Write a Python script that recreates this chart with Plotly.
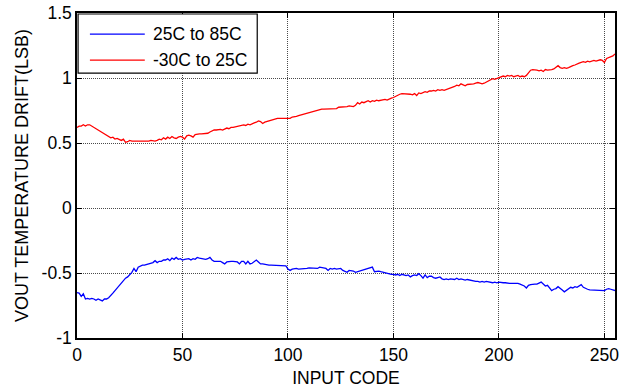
import plotly.graph_objects as go

codes = list(range(256))

drift_25_85 = [
    -0.65, -0.655, -0.68, -0.66, -0.70, -0.695, -0.70, -0.695, -0.70, -0.71, -0.70, -0.705, -0.715, -0.70, -0.70, -0.69,
    -0.675, -0.655, -0.635, -0.615, -0.595, -0.575, -0.555, -0.54, -0.53, -0.51, -0.495, -0.465, -0.49, -0.455, -0.445, -0.44,
    -0.44, -0.435, -0.43, -0.425, -0.42, -0.405, -0.42, -0.41, -0.41, -0.40, -0.40, -0.39, -0.405, -0.385, -0.395, -0.38,
    -0.395, -0.39, -0.40, -0.395, -0.395, -0.39, -0.40, -0.39, -0.395, -0.38, -0.385, -0.39, -0.395, -0.395, -0.39, -0.38,
    -0.40, -0.41, -0.41, -0.41, -0.41, -0.42, -0.43, -0.415, -0.41, -0.41, -0.41, -0.41, -0.415, -0.43, -0.41, -0.41,
    -0.43, -0.41, -0.43, -0.425, -0.41, -0.40, -0.415, -0.43, -0.43, -0.435, -0.44, -0.44, -0.44, -0.44, -0.44, -0.445,
    -0.445, -0.445, -0.445, -0.445, -0.47, -0.48, -0.47, -0.465, -0.465, -0.47, -0.47, -0.465, -0.465, -0.465, -0.46, -0.46,
    -0.465, -0.46, -0.465, -0.455, -0.46, -0.465, -0.465, -0.48, -0.465, -0.47, -0.465, -0.47, -0.47, -0.465, -0.48, -0.49,
    -0.495, -0.48, -0.48, -0.485, -0.495, -0.49, -0.485, -0.48, -0.48, -0.47, -0.47, -0.465, -0.455, -0.49, -0.485, -0.485,
    -0.49, -0.495, -0.50, -0.505, -0.505, -0.51, -0.51, -0.515, -0.51, -0.52, -0.51, -0.515, -0.52, -0.515, -0.53, -0.52,
    -0.515, -0.52, -0.505, -0.52, -0.54, -0.515, -0.535, -0.525, -0.525, -0.535, -0.54, -0.535, -0.53, -0.545, -0.55, -0.545,
    -0.55, -0.545, -0.55, -0.55, -0.54, -0.55, -0.545, -0.55, -0.555, -0.55, -0.555, -0.56, -0.565, -0.565, -0.565, -0.57,
    -0.565, -0.57, -0.565, -0.57, -0.57, -0.575, -0.57, -0.575, -0.57, -0.575, -0.575, -0.575, -0.58, -0.58, -0.58, -0.58,
    -0.575, -0.58, -0.585, -0.59, -0.60, -0.615, -0.595, -0.59, -0.585, -0.585, -0.585, -0.575, -0.57, -0.585, -0.60, -0.595,
    -0.615, -0.635, -0.625, -0.62, -0.605, -0.615, -0.63, -0.645, -0.635, -0.625, -0.61, -0.615, -0.605, -0.61, -0.60, -0.59,
    -0.61, -0.62, -0.625, -0.63, -0.63, -0.63, -0.63, -0.63, -0.635, -0.635, -0.635, -0.625, -0.62, -0.625, -0.63, -0.635,
]

drift_m30_25 = [
    0.62, 0.63, 0.63, 0.64, 0.63, 0.64, 0.64, 0.63, 0.62, 0.61, 0.60, 0.59, 0.58, 0.57, 0.56, 0.55,
    0.54, 0.545, 0.53, 0.535, 0.53, 0.52, 0.53, 0.505, 0.51, 0.52, 0.515, 0.515, 0.51, 0.515, 0.515, 0.515,
    0.51, 0.515, 0.515, 0.52, 0.515, 0.515, 0.52, 0.53, 0.525, 0.54, 0.53, 0.545, 0.535, 0.55, 0.54, 0.535,
    0.545, 0.55, 0.545, 0.53, 0.555, 0.56, 0.555, 0.545, 0.565, 0.57, 0.57, 0.57, 0.57, 0.575, 0.575, 0.585,
    0.595, 0.60, 0.60, 0.605, 0.605, 0.60, 0.61, 0.615, 0.61, 0.62, 0.62, 0.625, 0.625, 0.63, 0.635, 0.64,
    0.635, 0.645, 0.64, 0.65, 0.655, 0.66, 0.67, 0.665, 0.65, 0.66, 0.665, 0.675, 0.675, 0.68, 0.685, 0.69,
    0.69, 0.69, 0.695, 0.69, 0.695, 0.69, 0.70, 0.70, 0.705, 0.71, 0.715, 0.715, 0.72, 0.725, 0.73, 0.735,
    0.74, 0.745, 0.755, 0.76, 0.76, 0.76, 0.76, 0.76, 0.76, 0.76, 0.76, 0.765, 0.775, 0.775, 0.78, 0.78,
    0.78, 0.785, 0.78, 0.78, 0.79, 0.81, 0.80, 0.815, 0.81, 0.82, 0.825, 0.815, 0.825, 0.82, 0.83, 0.825,
    0.83, 0.83, 0.835, 0.83, 0.84, 0.845, 0.85, 0.86, 0.87, 0.875, 0.88, 0.88, 0.88, 0.875, 0.875, 0.87,
    0.88, 0.865, 0.885, 0.88, 0.89, 0.895, 0.89, 0.90, 0.90, 0.905, 0.90, 0.91, 0.905, 0.91, 0.905, 0.91,
    0.92, 0.925, 0.93, 0.935, 0.945, 0.94, 0.955, 0.945, 0.94, 0.95, 0.95, 0.95, 0.955, 0.96, 0.965, 0.96,
    0.955, 0.96, 0.97, 0.98, 0.985, 0.995, 0.99, 0.995, 1.00, 1.005, 1.015, 1.01, 1.02, 1.015, 1.02, 1.01,
    1.015, 1.02, 1.01, 1.015, 1.01, 1.02, 1.04, 1.06, 1.065, 1.065, 1.06, 1.055, 1.06, 1.05, 1.065, 1.06,
    1.06, 1.065, 1.07, 1.085, 1.095, 1.08, 1.075, 1.08, 1.075, 1.08, 1.09, 1.095, 1.10, 1.11, 1.115, 1.12,
    1.125, 1.12, 1.13, 1.125, 1.13, 1.135, 1.13, 1.135, 1.14, 1.135, 1.12, 1.15, 1.155, 1.16, 1.17, 1.185,
]

series_names = ["25C to 85C", "-30C to 25C"]
series_colors = ["#0000FF", "#FF0000"]
x_ticks = [0, 50, 100, 150, 200, 250]
y_ticks = [-1, -0.5, 0, 0.5, 1, 1.5]
y_tick_text = ["-1", "-0.5", "0", "0.5", "1", "1.5"]

FAM = "Liberation Sans, Arial, sans-serif"
font = dict(family=FAM, size=17.5, color="black")

fig = go.Figure()
for name, ys, col in zip(series_names, [drift_25_85, drift_m30_25], series_colors):
    fig.add_trace(go.Scatter(x=codes, y=ys, mode="lines", name=name,
                             line=dict(color=col, width=1.3), showlegend=False))

axis_common = dict(
    showline=True, linecolor="black", linewidth=1.5, mirror="ticks",
    ticks="inside", ticklen=5, tickcolor="black", tickwidth=1,
    showgrid=True, gridcolor="#4a4a4a", gridwidth=1, griddash="1px,1px",
    zeroline=False, tickfont=font, automargin=False,
)

fig.update_xaxes(range=[0, 255], tickvals=x_ticks,
                 title=dict(text="INPUT CODE", font=font, standoff=8),
                 **axis_common)
fig.update_yaxes(range=[-1, 1.5], tickvals=y_ticks, ticktext=y_tick_text,
                 title=dict(text="VOUT TEMPERATURE DRIFT(LSB)", font=dict(family=FAM, size=18, color="black"),
                            standoff=8),
                 **axis_common)

# Legend box drawn in paper coordinates (top-left, inside the axes)
lg_x0, lg_x1, lg_y0, lg_y1 = 0.002, 0.335, 0.815, 0.997
line_x0, line_x1, text_x = 0.024, 0.126, 0.137
row_y = [0.935, 0.855]
shapes = [dict(type="rect", xref="paper", yref="paper", x0=lg_x0, x1=lg_x1, y0=lg_y0, y1=lg_y1,
               line=dict(color="black", width=1.2), fillcolor="white", layer="above")]
annotations = []
for name, col, yy in zip(series_names, series_colors, row_y):
    shapes.append(dict(type="line", xref="paper", yref="paper", x0=line_x0, x1=line_x1, y0=yy, y1=yy,
                       line=dict(color=col, width=1.3), layer="above"))
    annotations.append(dict(xref="paper", yref="paper", x=text_x, y=yy, text=name, showarrow=False,
                            xanchor="left", yanchor="middle", font=font))

fig.update_layout(
    width=631, height=391,
    margin=dict(l=77, r=16, t=13, b=53, autoexpand=False),
    paper_bgcolor="white", plot_bgcolor="white",
    font=font,
    showlegend=False,
    shapes=shapes,
    annotations=annotations,
)

fig.write_html("out.html")
